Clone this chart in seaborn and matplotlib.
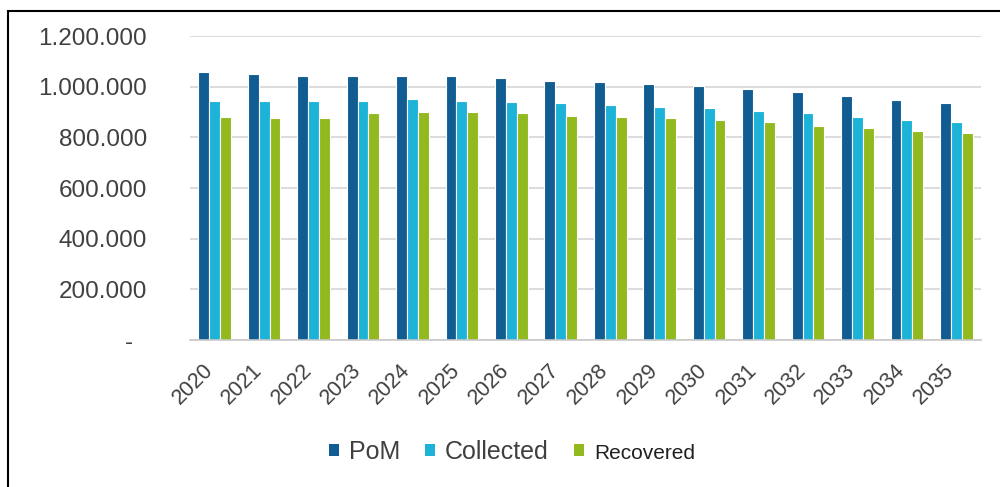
import matplotlib
matplotlib.use("Agg")
import matplotlib.pyplot as plt
import matplotlib.transforms as mtransforms
import seaborn as sns
import pandas as pd
from matplotlib.patches import Patch, Rectangle
from matplotlib.ticker import FuncFormatter, MultipleLocator

years = [str(y) for y in range(2020, 2036)]
pom = [1057000, 1049000, 1044000, 1044000, 1044000, 1044000, 1033000, 1024000,
       1017000, 1011000, 1003000, 991000, 980000, 965000, 948000, 934000]
collected = [945000, 945000, 945000, 945000, 950000, 945000, 938000, 934000,
             928000, 921000, 915000, 905000, 895000, 879000, 869000, 860000]
recovered = [882000, 876000, 876000, 898000, 901000, 901000, 898000, 886000,
             882000, 875000, 869000, 860000, 846000, 837000, 826000, 818000]
series_names = ["PoM", "Collected", "Recovered"]
colors = ["#115d92", "#1db2d8", "#92b91d"]

df = pd.DataFrame({
    "year": years * 3,
    "value": pom + collected + recovered,
    "series": [series_names[0]] * 16 + [series_names[1]] * 16 + [series_names[2]] * 16,
})

sns.set_theme(style="white")
plt.rcParams["font.family"] = ["Liberation Sans", "DejaVu Sans"]

fig = plt.figure(figsize=(10, 4.87), dpi=100)
ax = fig.add_axes([0.19, 0.3018, 0.791, 0.624])

sns.barplot(data=df, x="year", y="value", hue="series", hue_order=series_names,
            palette=colors, width=0.66, edgecolor="white", linewidth=0.8,
            saturation=1, ax=ax, legend=False)

ax.set_ylim(0, 1200000)
ax.set_xlim(-0.5, 15.5)
ax.yaxis.set_major_locator(MultipleLocator(200000))

def fmt(v, pos):
    if v == 0:
        return "-  "
    return f"{int(v):,}".replace(",", ".")

ax.yaxis.set_major_formatter(FuncFormatter(fmt))
ax.grid(axis="y", color="#d9d9d9", linewidth=1.3)
ax.set_axisbelow(True)
for s in ["top", "right", "left"]:
    ax.spines[s].set_visible(False)
ax.spines["bottom"].set_color("#c8c8c8")
ax.spines["bottom"].set_linewidth(1.2)

ax.set_xlabel("")
ax.set_ylabel("")
ax.tick_params(axis="y", length=0, pad=31, labelsize=17.5, labelcolor="#404040")
ax.tick_params(axis="x", length=0, pad=14, labelsize=15.5, labelcolor="#404040")
offset = mtransforms.ScaledTranslation(-9 / 72, 0, fig.dpi_scale_trans)
for lab in ax.get_xticklabels():
    lab.set_rotation(45)
    lab.set_ha("right")
    lab.set_rotation_mode("anchor")
    lab.set_transform(lab.get_transform() + offset)

handles = [Patch(facecolor=c, edgecolor="none") for c in colors]
leg = fig.legend(handles, series_names, loc="center", bbox_to_anchor=(0.512, 0.072),
                 ncol=3, frameon=False, fontsize=18, handlelength=0.4, handleheight=0.4,
                 handletextpad=0.4, columnspacing=1.0)
for t in leg.get_texts():
    t.set_color("#404040")
leg.get_texts()[2].set_fontsize(15)
leg.get_texts()[2].set_color("#202020")

fig.patches.append(Rectangle((0.008, -0.1), 1.2, 0.977 + 0.1, transform=fig.transFigure,
                             fill=False, edgecolor="black", linewidth=1.5))

fig.savefig("out.png", dpi=100)
